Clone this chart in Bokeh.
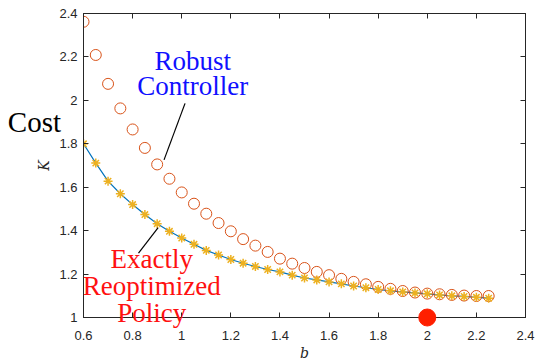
from bokeh.plotting import figure
from bokeh.models import LinearAxis, Range1d, FixedTicker
from bokeh.core.properties import value
from bokeh.embed import file_html
from bokeh.resources import INLINE

# ---- data ----
b_vals = [0.60, 0.65, 0.70, 0.75, 0.80, 0.85, 0.90, 0.95, 1.00, 1.05, 1.10, 1.15,
          1.20, 1.25, 1.30, 1.35, 1.40, 1.45, 1.50, 1.55, 1.60, 1.65, 1.70, 1.75,
          1.80, 1.85, 1.90, 1.95, 2.00, 2.05, 2.10, 2.15, 2.20, 2.25]
k_exact = [1.800, 1.711, 1.628, 1.570, 1.520, 1.474, 1.432, 1.397, 1.366, 1.337, 1.309, 1.288,
           1.267, 1.250, 1.235, 1.221, 1.210, 1.195, 1.182, 1.173, 1.164, 1.155, 1.145, 1.137,
           1.129, 1.123, 1.118, 1.113, 1.109, 1.104, 1.100, 1.097, 1.093, 1.089]
k_robust = [2.362, 2.209, 2.076, 1.963, 1.866, 1.781, 1.705, 1.639, 1.576, 1.524, 1.478, 1.435,
            1.397, 1.361, 1.331, 1.302, 1.271, 1.248, 1.228, 1.210, 1.195, 1.178, 1.164, 1.153,
            1.141, 1.132, 1.122, 1.115, 1.110, 1.107, 1.104, 1.101, 1.099, 1.099]
nominal_b = [2.0]
nominal_k = [1.0]

x_ticks = [0.6, 0.8, 1.0, 1.2, 1.4, 1.6, 1.8, 2.0, 2.2, 2.4]
y_ticks = [1.0, 1.2, 1.4, 1.6, 1.8, 2.0, 2.2, 2.4]
x_tick_labels = {0.6: "0.6", 0.8: "0.8", 1.0: "1", 1.2: "1.2", 1.4: "1.4", 1.6: "1.6",
                 1.8: "1.8", 2.0: "2", 2.2: "2.2", 2.4: "2.4"}
y_tick_labels = {1.0: "1", 1.2: "1.2", 1.4: "1.4", 1.6: "1.6", 1.8: "1.8", 2.0: "2",
                 2.2: "2.2", 2.4: "2.4"}

robust_text = ["Robust", "Controller"]
robust_text_x = [1.045, 1.045]
robust_text_y = [2.181, 2.066]
robust_pointer_x = [1.0135, 0.928]
robust_pointer_y = [1.986, 1.726]

exact_text = ["Exactly", "Reoptimized", "Policy"]
exact_text_x = [0.878, 0.878, 0.878]
exact_text_y = [1.269, 1.147, 1.019]
exact_pointer_x = [0.904, 0.824]
exact_pointer_y = [1.414, 1.297]

cost_text = ["Cost"]
cost_x = [0.292]
cost_y = [1.900]

xlabel_text = ["b"]
xlabel_x = [1.5]
xlabel_y = [0.838]

AX = "#262626"

p = figure(width=537, height=361, output_backend="svg", toolbar_location=None,
           x_range=Range1d(0.6, 2.4), y_range=Range1d(1.0, 2.4),
           min_border_left=83, min_border_right=12, min_border_top=13, min_border_bottom=44)
p.background_fill_color = "white"
p.border_fill_color = "white"
p.outline_line_color = AX
p.outline_line_width = 1
p.xgrid.visible = False
p.ygrid.visible = False

for ax in p.xaxis:
    ax.ticker = FixedTicker(ticks=x_ticks)
    ax.major_label_overrides = {k: v for k, v in x_tick_labels.items()}
for ax in p.yaxis:
    ax.ticker = FixedTicker(ticks=y_ticks)
    ax.major_label_overrides = {k: v for k, v in y_tick_labels.items()}
    ax.axis_label = "K"
    ax.axis_label_text_font = "DejaVu Serif"
    ax.axis_label_text_font_style = "italic"
    ax.axis_label_text_font_size = "14px"
    ax.axis_label_standoff = 4

for ax in list(p.xaxis) + list(p.yaxis):
    ax.axis_line_color = AX
    ax.major_tick_line_color = AX
    ax.major_tick_in = 5
    ax.major_tick_out = 0
    ax.minor_tick_line_color = None
    ax.major_label_text_font = "Liberation Sans"
    ax.major_label_text_font_size = "13px"
    ax.major_label_text_color = AX
    ax.axis_label_text_color = AX
p.xaxis.major_label_standoff = 13
p.yaxis.major_label_standoff = 6

top = LinearAxis(ticker=FixedTicker(ticks=x_ticks),
                 major_label_overrides={k: "" for k in x_ticks},
                 major_label_text_color=None, major_label_text_font_size="1px",
                 major_label_standoff=0, major_tick_in=5, major_tick_out=0,
                 minor_tick_line_color=None, axis_line_color=AX, major_tick_line_color=AX)
right = LinearAxis(ticker=FixedTicker(ticks=y_ticks),
                   major_label_overrides={k: "" for k in y_ticks},
                   major_label_text_color=None, major_label_text_font_size="1px",
                   major_label_standoff=0, major_tick_in=5, major_tick_out=0,
                   minor_tick_line_color=None, axis_line_color=AX, major_tick_line_color=AX)
p.add_layout(top, "above")
p.add_layout(right, "right")

# series
p.line(b_vals, k_exact, line_color="#0072BD", line_width=1.2)
p.scatter(b_vals, k_robust, marker="circle", size=11, fill_color=None,
          line_color="#D95319", line_width=1)
p.scatter(b_vals, k_exact, marker="asterisk", size=9, line_color="#EDB120", line_width=1.5)
p.scatter(nominal_b, nominal_k, marker="circle", size=17, fill_color="#FF1F00",
          line_color="#FF1F00", level="overlay")

# annotation pointers
p.line(robust_pointer_x, robust_pointer_y, line_color="black", line_width=1.2)
p.line(exact_pointer_x, exact_pointer_y, line_color="black", line_width=1.2)

p.text(robust_text_x, robust_text_y, text=robust_text, text_align="center",
       text_baseline="alphabetic", text_color="#1010FF",
       text_font=value("Liberation Serif"), text_font_size="27px", level="overlay")
p.text(exact_text_x, exact_text_y, text=exact_text, text_align="center",
       text_baseline="alphabetic", text_color="#FF1010",
       text_font=value("Liberation Serif"), text_font_size="27px", level="overlay")
p.text(cost_x, cost_y, text=cost_text, text_align="left",
       text_baseline="alphabetic", text_color="black",
       text_font=value("Liberation Serif"), text_font_size="29px", level="overlay")
p.text(xlabel_x, xlabel_y, text=xlabel_text, text_align="center",
       text_baseline="alphabetic", text_color=AX, text_font_style="italic",
       text_font=value("DejaVu Serif"), text_font_size="14px", level="overlay")

open("out.html", "w").write(file_html(p, INLINE))
